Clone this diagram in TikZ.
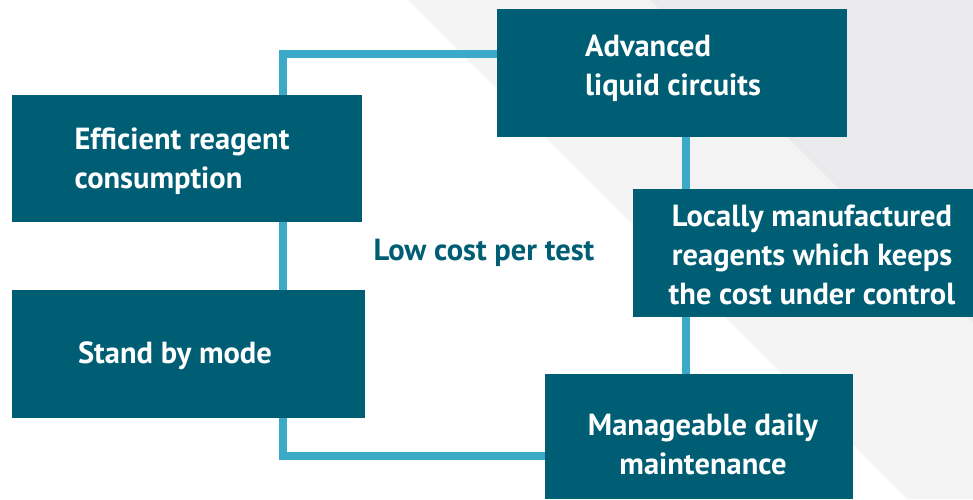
\documentclass[tikz,border=0pt]{standalone}
\usepackage{fontspec}
\setmainfont{PT Sans}
\definecolor{boxteal}{HTML}{005E74}
\definecolor{linkblue}{HTML}{3AAAC8}
\definecolor{stripelight}{HTML}{F4F4F5}
\definecolor{stripedark}{HTML}{EAEAEC}
\tikzset{
  box/.style={fill=boxteal, draw=none, anchor=north west, inner sep=0pt},
  boxtext/.style={text=white, font=\fontsize{30.5}{39}\selectfont\bfseries, inner sep=0pt},
  link/.style={draw=linkblue, line width=8pt, line cap=butt, line join=miter}
}
\begin{document}
\begin{tikzpicture}[x=1pt,y=-1pt]
\useasboundingbox (0,0) rectangle (973,499);
\fill[white] (0,0) rectangle (973,499);
\fill[stripelight] (408,0) -- (907,499) -- (973,499) -- (973,0) -- cycle;
\fill[stripedark] (650,0) -- (973,323) -- (973,0) -- cycle;

\node[box, minimum width=350pt, minimum height=127pt] (E) at (12,95) {};
\node[box, minimum width=353pt, minimum height=128pt] (S) at (12,290) {};
\node[box, minimum width=350pt, minimum height=128pt] (A) at (497,9) {};
\node[box, minimum width=340pt, minimum height=128pt] (L) at (633,189) {};
\node[box, minimum width=308pt, minimum height=125pt] (M) at (545,374) {};

\node[boxtext, align=left] (Et) at (182,161) {Efficient reagent\\consumption};
\node[boxtext] (St) at (175,356) {Stand by mode};
\node[boxtext, align=left] (At) at (673,68) {Advanced\\liquid circuits};
\node[boxtext, align=center] (Lt) at (812,255) {Locally manufactured\\reagents which keeps\\the cost under control};
\node[boxtext, align=center] (Mt) at (703,444) {Manageable daily\\maintenance};
\node[text=boxteal, font=\fontsize{30.5}{36}\selectfont\bfseries, inner sep=0pt] (low) at (484,253) {Low cost per test};

\coordinate (c1) at (283,54);
\coordinate (c2) at (283,456);
\coordinate (rx) at (686,0);
\draw[link] (c1 -| A.west) -- (c1) -- (c1 |- E.north);
\draw[link] (c1 |- E.south) -- (c1 |- S.north);
\draw[link] (c1 |- S.south) -- (c2) -- (c2 -| M.west);
\draw[link] (rx |- A.south) -- (rx |- L.north);
\draw[link] (rx |- L.south) -- (rx |- M.north);
\end{tikzpicture}
\end{document}
